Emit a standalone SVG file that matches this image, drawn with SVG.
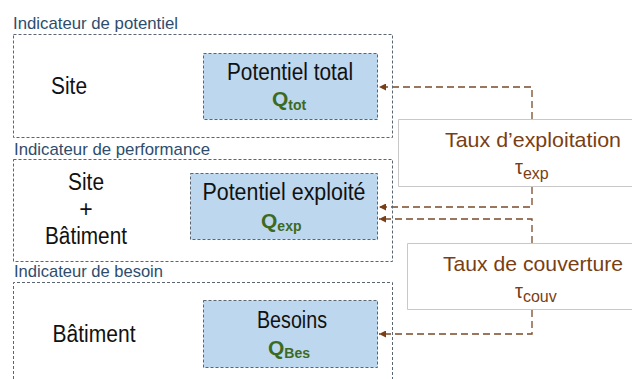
<svg xmlns="http://www.w3.org/2000/svg" width="632" height="379" viewBox="0 0 632 379">
<style>
.outer{fill:none;stroke:#5a6572;stroke-width:1;stroke-dasharray:3 2}
.inner{fill:#bdd7ee;stroke:#5a6572;stroke-width:1;stroke-dasharray:3 2}
.rate{fill:#fff;stroke:none}
.rateb{fill:none;stroke:#c8c8c8;stroke-width:1}
.lbl{font-family:"Liberation Sans",Arial,sans-serif;font-size:17px;fill:#2e4d6d}
.big{font-family:"Liberation Sans",Arial,sans-serif;font-size:23px;fill:#111}
.q{font-family:"Liberation Sans",Arial,sans-serif;font-weight:bold;fill:#3c6a1e}
.br{font-family:"Liberation Sans",Arial,sans-serif;fill:#7a3e14}
.con{fill:none;stroke:#7a4a2a;stroke-width:1.3;stroke-dasharray:7 4}
</style>
<defs>
<marker id="ah" viewBox="0 0 10 10" refX="10" refY="5" markerWidth="7" markerHeight="7" markerUnits="userSpaceOnUse" orient="auto">
<path d="M0,0 L10,5 L0,10 z" fill="#7a3e14"/>
</marker>
</defs>
<rect width="632" height="379" fill="#fff"/>

<g id="connectors">
<path class="con" d="M532,119 V87 H379" marker-end="url(#ah)"/>
<path class="con" d="M532,187 V207 H379" marker-end="url(#ah)"/>
<path class="con" d="M532,243 V219 H379" marker-end="url(#ah)"/>
<path class="con" d="M532,310 V334 H379" marker-end="url(#ah)"/>
</g>

<g id="indicateur-potentiel">
<text class="lbl" x="13" y="29" textLength="165" lengthAdjust="spacingAndGlyphs">Indicateur de potentiel</text>
<rect class="outer" x="13.5" y="34.5" width="379" height="103"/>
<text class="big" x="69" y="94" text-anchor="middle" textLength="36" lengthAdjust="spacingAndGlyphs">Site</text>
</g>
<g id="potentiel-total">
<rect class="inner" x="203.5" y="53.5" width="174" height="66"/>
<text class="big" x="290" y="80" text-anchor="middle" textLength="126" lengthAdjust="spacingAndGlyphs">Potentiel total</text>
<text class="q" x="272" y="106" font-size="21">Q<tspan font-size="14" dy="4">tot</tspan></text>
</g>

<g id="indicateur-performance">
<text class="lbl" x="14" y="155" textLength="196" lengthAdjust="spacingAndGlyphs">Indicateur de performance</text>
<rect class="outer" x="13.5" y="159.5" width="379" height="102"/>
<text class="big" x="86" y="190" text-anchor="middle" textLength="36" lengthAdjust="spacingAndGlyphs">Site</text>
<text class="big" x="86" y="217" text-anchor="middle">+</text>
<text class="big" x="86" y="244" text-anchor="middle" textLength="82" lengthAdjust="spacingAndGlyphs">Bâtiment</text>
</g>
<g id="potentiel-exploite">
<rect class="inner" x="190.5" y="173.5" width="187" height="66"/>
<text class="big" x="284" y="200" text-anchor="middle" textLength="163" lengthAdjust="spacingAndGlyphs">Potentiel exploité</text>
<text class="q" x="261" y="228" font-size="21">Q<tspan font-size="14" dy="3">exp</tspan></text>
</g>

<g id="indicateur-besoin">
<text class="lbl" x="14" y="277" textLength="149" lengthAdjust="spacingAndGlyphs">Indicateur de besoin</text>
<path class="outer" d="M13.5,379 V282.5 H392.5 V379"/>
<text class="big" x="94" y="342" text-anchor="middle" textLength="83" lengthAdjust="spacingAndGlyphs">Bâtiment</text>
</g>
<g id="besoins">
<rect class="inner" x="203.5" y="300.5" width="174" height="67"/>
<text class="big" x="292" y="328" text-anchor="middle" textLength="70" lengthAdjust="spacingAndGlyphs">Besoins</text>
<text class="q" x="268" y="355" font-size="21">Q<tspan font-size="14" dy="3">Bes</tspan></text>
</g>

<g id="taux-exploitation">
<rect class="rate" x="398.5" y="119.5" width="233.5" height="67"/>
<path class="rateb" d="M632,119.5 H398.5 V186.5 H632"/>
<text class="br" x="533" y="147" text-anchor="middle" font-size="21" textLength="176" lengthAdjust="spacingAndGlyphs">Taux d’exploitation</text>
<text class="br" x="515" y="174" font-size="20">τ<tspan font-size="16" dy="5">exp</tspan></text>
</g>

<g id="taux-couverture">
<rect class="rate" x="407.5" y="243.5" width="224.5" height="66"/>
<path class="rateb" d="M632,243.5 H407.5 V309.5 H632"/>
<text class="br" x="533" y="271" text-anchor="middle" font-size="21" textLength="180" lengthAdjust="spacingAndGlyphs">Taux de couverture</text>
<text class="br" x="515" y="298" font-size="20">τ<tspan font-size="16" dy="4">couv</tspan></text>
</g>
</svg>
